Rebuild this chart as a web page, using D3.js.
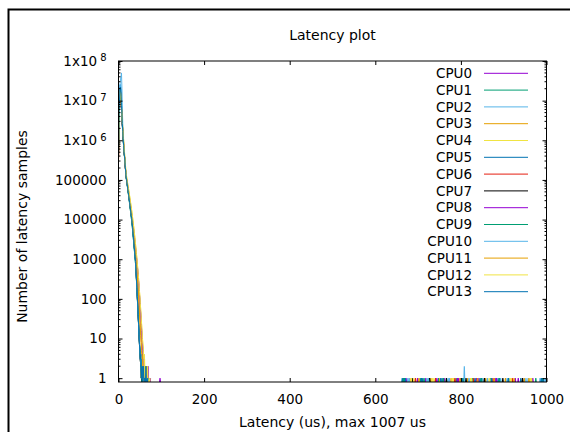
<!DOCTYPE html>
<html>
<head>
<meta charset="utf-8">
<script src="https://cdn.jsdelivr.net/npm/d3@7"></script>
<style>
  body { margin: 0; background: #fff; }
  text { font-family: "DejaVu Sans", sans-serif; fill: #000; }
</style>
</head>
<body>
<div id="chart"></div>
<script>
// samples per 1 us latency bin, starting at 0 us
const cpu0Counts = [300000, 2000000, 6000000, 12000000, 17000000, 15000000, 10000000, 6200000, 3900000, 2500000, 1700000, 1200000, 850000, 600000, 420000, 300000, 210000, 160000, 125000, 105000, 90000, 77000, 66000, 56000, 47500, 40000, 33500, 28000, 23500, 19500, 16200, 13400, 11100, 9100, 7500, 6100, 4900, 3900, 3100, 2450, 1900, 1500, 1150, 900, 700, 520, 380, 270, 190, 130, 90, 60, 40, 26, 17, 11, 8, 5, 3, 4, 2, 1, 2, 0, 1, 1, 0, 2, 1, 0, 1, 1, 0, 1];
const cpu1Counts = [500000, 2800000, 7500000, 15000000, 18000000, 15000000, 10000000, 6000000, 3600000, 2300000, 1500000, 1000000, 700000, 500000, 380000, 280000, 200000, 140000, 110000, 92000, 77000, 64000, 53000, 44000, 36500, 30000, 24500, 20000, 16300, 13300, 10800, 8700, 6900, 5300, 4000, 3000, 2250, 1700, 1280, 960, 700, 450, 280, 170, 100, 60, 35, 20, 11, 7, 4, 3, 2, 3, 1, 0, 2, 1, 1, 0, 1, 0, 1, 2, 0, 1];
const cpu2Counts = [600000, 3000000, 9000000, 20000000, 30000000, 35000000, 42000000, 50000000, 20000000, 6000000, 2500000, 1400000, 900000, 620000, 430000, 310000, 220000, 155000, 120000, 101000, 85000, 71000, 59000, 49000, 40500, 33500, 27500, 22800, 18800, 15500, 12800, 10500, 8500, 6500, 4900, 3700, 2750, 2050, 1550, 1180, 900, 550, 330, 200, 120, 72, 42, 24, 13, 8, 5, 4, 2, 3, 1, 2, 0, 1, 1, 2, 0, 1, 0, 1, 1, 0, 1];
const cpu3Counts = [350000, 2200000, 6500000, 13000000, 17500000, 15500000, 10500000, 6400000, 4000000, 2600000, 1700000, 1150000, 800000, 560000, 400000, 290000, 205000, 150000, 118000, 99000, 84000, 71000, 60000, 50500, 42500, 35500, 29500, 24500, 20300, 16800, 13900, 11400, 9300, 7500, 6000, 4700, 3650, 2800, 2150, 1650, 1250, 950, 700, 500, 350, 240, 160, 105, 68, 44, 28, 18, 12, 8, 5, 3, 4, 2, 1, 2, 0, 1, 1, 0, 2, 1, 0, 1, 0, 1];
const cpu4Counts = [280000, 1800000, 5500000, 11000000, 16000000, 15000000, 11000000, 7000000, 4500000, 3000000, 2000000, 1400000, 1000000, 700000, 500000, 350000, 250000, 185000, 142000, 118000, 100000, 86000, 74000, 63000, 54000, 46000, 39000, 33000, 27800, 23300, 19500, 16200, 13400, 11000, 9000, 7300, 5900, 4700, 3700, 2900, 2250, 1750, 1350, 1030, 780, 580, 430, 310, 220, 155, 108, 74, 50, 33, 22, 15, 10, 7, 5, 3, 4, 2, 1, 2, 1, 0, 1, 2, 0, 1, 1, 0, 1];
const cpu5Counts = [450000, 2600000, 8000000, 16000000, 25000000, 22000000, 14000000, 8000000, 4500000, 2700000, 1700000, 1100000, 740000, 520000, 390000, 290000, 205000, 146000, 115000, 97000, 82000, 68000, 56500, 47000, 39000, 32000, 26500, 22000, 18000, 14800, 12200, 10000, 8000, 6100, 4600, 3450, 2600, 1950, 1450, 1100, 820, 500, 300, 180, 108, 64, 37, 21, 12, 7, 5, 3, 2, 3, 1, 2, 0, 1, 2, 0, 1, 1, 0, 1];
const cpu6Counts = [320000, 2100000, 6300000, 12500000, 17000000, 14800000, 10000000, 6100000, 3800000, 2450000, 1600000, 1080000, 750000, 530000, 395000, 292000, 208000, 150000, 117000, 98500, 83000, 69500, 58000, 48000, 40000, 33000, 27200, 22400, 18400, 15100, 12400, 10100, 8100, 6200, 4700, 3550, 2650, 2000, 1500, 1130, 850, 520, 310, 185, 110, 66, 38, 22, 12, 7, 4, 3, 2, 1, 2, 0, 1, 1, 0, 1];
const cpu7Counts = [380000, 2400000, 7000000, 14000000, 18500000, 16000000, 10800000, 6500000, 4000000, 2500000, 1600000, 1070000, 740000, 525000, 398000, 296000, 210000, 152000, 119000, 100000, 84500, 70500, 58800, 48800, 40500, 33400, 27600, 22700, 18700, 15400, 12600, 10300, 8250, 6300, 4750, 3600, 2700, 2020, 1520, 1150, 860, 530, 320, 190, 112, 67, 39, 22, 12, 8, 5, 3, 2, 2, 1, 0, 1, 2, 0, 1, 1, 0, 1];
const cpu8Counts = [330000, 2150000, 6400000, 12800000, 17200000, 15100000, 10200000, 6300000, 3950000, 2550000, 1700000, 1180000, 830000, 590000, 415000, 300000, 212000, 158000, 124000, 104000, 89000, 76000, 65000, 55500, 47000, 39800, 33300, 27800, 23200, 19300, 16000, 13200, 10900, 8900, 7300, 5900, 4750, 3800, 3000, 2380, 1860, 1450, 1120, 860, 660, 500, 370, 265, 185, 128, 88, 59, 39, 25, 16, 10, 7, 5, 3, 2, 3, 1, 2, 0, 1, 1, 0, 1, 0, 2, 1, 0, 0, 1, 0, 1];
const cpu9Counts = [470000, 2700000, 7700000, 15200000, 18200000, 15200000, 10100000, 6050000, 3650000, 2320000, 1520000, 1010000, 705000, 505000, 383000, 283000, 202000, 142000, 111000, 93000, 78000, 65000, 54000, 44800, 37000, 30500, 25000, 20400, 16600, 13500, 11000, 8850, 7000, 5400, 4100, 3050, 2300, 1720, 1300, 980, 720, 460, 285, 172, 102, 61, 36, 21, 12, 7, 4, 3, 2, 1, 2, 0, 1, 1, 0, 1, 0, 2, 1, 0, 1];
const cpu10Counts = [550000, 2900000, 8500000, 18000000, 26000000, 24000000, 16000000, 9000000, 5000000, 2800000, 1750000, 1150000, 780000, 540000, 405000, 300000, 212000, 151000, 118000, 99500, 84000, 70000, 58300, 48400, 40100, 33100, 27300, 22500, 18500, 15200, 12500, 10200, 8200, 6250, 4700, 3550, 2650, 1980, 1480, 1120, 840, 510, 310, 185, 110, 66, 38, 22, 12, 8, 5, 3, 4, 2, 1, 2, 1, 0, 1, 1, 0, 2, 1, 0, 1];
const cpu11Counts = [360000, 2250000, 6600000, 13200000, 17800000, 15700000, 10600000, 6450000, 4050000, 2620000, 1720000, 1160000, 810000, 570000, 405000, 293000, 208000, 152000, 120000, 100500, 85500, 72500, 61000, 51500, 43300, 36200, 30100, 25000, 20700, 17100, 14100, 11600, 9450, 7600, 6050, 4750, 3700, 2850, 2180, 1670, 1260, 950, 700, 505, 355, 245, 165, 108, 70, 45, 29, 19, 12, 8, 5, 4, 3, 2, 1, 2, 0, 1, 1, 0, 1, 2, 0, 1];
const cpu12Counts = [290000, 1850000, 5600000, 11200000, 16200000, 15100000, 11100000, 7100000, 4600000, 3050000, 2050000, 1430000, 1020000, 720000, 510000, 360000, 258000, 190000, 146000, 121000, 102000, 87500, 75000, 64000, 54800, 46700, 39700, 33600, 28300, 23700, 19800, 16500, 13600, 11200, 9150, 7400, 6000, 4800, 3800, 2980, 2320, 1800, 1380, 1050, 800, 595, 440, 320, 228, 160, 112, 77, 52, 35, 23, 15, 10, 7, 5, 3, 2, 3, 1, 2, 0, 1, 1, 0, 2, 1, 0, 1, 1, 0, 1];
const cpu13Counts = [420000, 2550000, 7800000, 15500000, 22000000, 20000000, 13000000, 7600000, 4400000, 2650000, 1680000, 1090000, 735000, 520000, 400000, 300000, 210000, 150000, 118000, 100000, 84000, 70000, 58000, 48000, 40000, 33000, 27000, 22500, 18500, 15300, 12600, 10400, 8400, 6400, 4800, 3600, 2700, 2000, 1500, 1150, 880, 530, 320, 190, 115, 70, 40, 23, 12, 7, 5, 3, 4, 2, 1, 2, 0, 1, 2, 1, 0, 1, 1, 0, 2, 1, 0, 1, 0, 1];

// isolated far-out samples: [latency us, count]
const cpu0Outliers = [[97, 1], [672, 1], [718, 1], [761, 1], [795, 1], [842, 1], [880, 1], [934, 1]];
const cpu1Outliers = [[668, 1], [705, 1], [748, 1], [789, 1], [827, 1], [869, 1], [912, 1], [990, 1]];
const cpu2Outliers = [[676, 1], [721, 1], [770, 1], [808, 2], [851, 1], [893, 1], [957, 1], [985, 1]];
const cpu3Outliers = [[681, 1], [730, 1], [777, 1], [816, 1], [858, 1], [904, 1], [948, 1]];
const cpu4Outliers = [[690, 1], [737, 1], [783, 1], [822, 1], [866, 1], [915, 1], [962, 1]];
const cpu5Outliers = [[663, 1], [711, 1], [756, 1], [800, 1], [845, 1], [887, 1], [940, 1], [993, 1]];
const cpu6Outliers = [[694, 1], [741, 1], [786, 1], [830, 1], [875, 1], [920, 1]];
const cpu7Outliers = [[686, 1], [727, 1], [766, 1], [812, 1], [855, 1], [898, 1], [944, 1]];
const cpu8Outliers = [[699, 1], [744, 1], [792, 1], [836, 1], [883, 1], [927, 1], [968, 1]];
const cpu9Outliers = [[666, 1], [714, 1], [759, 1], [805, 1], [848, 1], [890, 1], [975, 1]];
const cpu10Outliers = [[679, 1], [724, 1], [773, 1], [819, 1], [862, 1], [908, 1], [952, 1], [997, 1]];
const cpu11Outliers = [[702, 1], [751, 1], [798, 1], [839, 1], [878, 1], [924, 1], [959, 1]];
const cpu12Outliers = [[684, 1], [733, 1], [780, 1], [825, 1], [871, 1], [917, 1], [965, 1]];
const cpu13Outliers = [[670, 1], [708, 1], [753, 1], [803, 1], [833, 1], [872, 1], [911, 1], [988, 1]];

const cpuNames = ["CPU0", "CPU1", "CPU2", "CPU3", "CPU4", "CPU5", "CPU6", "CPU7",
                  "CPU8", "CPU9", "CPU10", "CPU11", "CPU12", "CPU13"];
const cpuColors = ["#9400d3", "#009e73", "#56b4e9", "#e69f00", "#f0e442", "#0072b2", "#e51e10", "#000000",
                   "#9400d3", "#009e73", "#56b4e9", "#e69f00", "#f0e442", "#0072b2"];
const xTickValues = [0, 200, 400, 600, 800, 1000];
const yTickValues = [1, 10, 100, 1000, 10000, 100000, 1e6, 1e7, 1e8];

document.addEventListener("DOMContentLoaded", function() {
  const allCounts = [cpu0Counts, cpu1Counts, cpu2Counts, cpu3Counts, cpu4Counts, cpu5Counts, cpu6Counts,
                     cpu7Counts, cpu8Counts, cpu9Counts, cpu10Counts, cpu11Counts, cpu12Counts, cpu13Counts];
  const allOutliers = [cpu0Outliers, cpu1Outliers, cpu2Outliers, cpu3Outliers, cpu4Outliers, cpu5Outliers, cpu6Outliers,
                       cpu7Outliers, cpu8Outliers, cpu9Outliers, cpu10Outliers, cpu11Outliers, cpu12Outliers, cpu13Outliers];

  // 1) Dimensions
  const width = 570;
  const height = 432;
  const left = 118.5, right = 546.5, top = 61, bottom = 382;
  const yMin = 0.8;

  const svg = d3.select("#chart")
    .append("svg")
    .attr("width", width)
    .attr("height", height);

  svg.append("rect")
    .attr("width", width).attr("height", height)
    .style("fill", "#fff");

  // outer frame (runs off the right and bottom edges)
  svg.append("rect")
    .attr("x", 8.5).attr("y", 9.5)
    .attr("width", 700).attr("height", 600)
    .style("fill", "none")
    .style("stroke", "#000")
    .style("stroke-width", 2);

  // 2) Scales
  const x = d3.scaleLinear().domain([0, 1000]).range([left, right]);
  const y = d3.scaleLog().domain([yMin, 1e8]).range([bottom, top]);

  svg.append("clipPath").attr("id", "plotclip")
    .append("rect")
    .attr("x", left).attr("y", top)
    .attr("width", right - left).attr("height", bottom - top);

  // 3) Data lines (zero counts fall to the bottom edge)
  const line = d3.line()
    .x((d, i) => x(i))
    .y(d => y(Math.max(d, yMin)));

  const plot = svg.append("g").attr("clip-path", "url(#plotclip)");

  allCounts.forEach((counts, k) => {
    plot.append("path")
      .attr("d", line(counts))
      .style("fill", "none")
      .style("stroke", cpuColors[k])
      .style("stroke-width", 1);

    allOutliers[k].forEach(o => {
      plot.append("path")
        .attr("d", `M${x(o[0] - 1)},${y(yMin)}L${x(o[0])},${y(o[1])}L${x(o[0] + 1)},${y(yMin)}`)
        .style("fill", "none")
        .style("stroke", cpuColors[k])
        .style("stroke-width", 1.2);
    });
  });

  // 4) Axes: ticks point inward, mirrored on top and right
  const fmtY = v => v >= 1e6 ? "1x10" : d3.format("d")(v);

  svg.append("g")
    .attr("transform", `translate(0,${bottom})`)
    .call(d3.axisBottom(x).tickValues(xTickValues).tickSizeInner(-4).tickSizeOuter(0).tickPadding(12).tickFormat(d3.format("d")));
  svg.append("g")
    .attr("transform", `translate(0,${top})`)
    .call(d3.axisTop(x).tickValues(xTickValues).tickSizeInner(-4).tickSizeOuter(0).tickFormat(""));

  const gy = svg.append("g")
    .attr("transform", `translate(${left},0)`)
    .call(d3.axisLeft(y).tickValues(yTickValues).tickSizeInner(-4).tickSizeOuter(0).tickPadding(12).tickFormat(fmtY));
  svg.append("g")
    .attr("transform", `translate(${right},0)`)
    .call(d3.axisRight(y).tickValues(yTickValues).tickSizeInner(-4).tickSizeOuter(0).tickFormat(""));

  // minor ticks on log axis
  const minor = y.ticks().filter(v => v >= 1 && !yTickValues.includes(v));
  svg.selectAll("line.minorL")
    .data(minor).enter().append("line")
    .attr("x1", left).attr("x2", left + 2)
    .attr("y1", d => y(d)).attr("y2", d => y(d))
    .style("stroke", "#000");
  svg.selectAll("line.minorR")
    .data(minor).enter().append("line")
    .attr("x1", right).attr("x2", right - 2)
    .attr("y1", d => y(d)).attr("y2", d => y(d))
    .style("stroke", "#000");

  svg.selectAll(".domain").remove();
  svg.selectAll(".tick text")
    .style("font-family", "'DejaVu Sans', sans-serif")
    .style("font-size", "13.5px")
    .style("fill", "#000");

  // superscript exponent for the big powers of ten
  gy.selectAll(".tick text")
    .filter(d => d >= 1e6)
    .append("tspan")
    .attr("dx", 3)
    .attr("dy", "-0.45em")
    .style("font-size", "10px")
    .text(d => Math.round(Math.log10(d)));

  // border
  svg.append("rect")
    .attr("x", left).attr("y", top)
    .attr("width", right - left).attr("height", bottom - top)
    .style("fill", "none")
    .style("stroke", "#000")
    .style("stroke-width", 1);

  // 5) Titles
  svg.append("text")
    .attr("x", (left + right) / 2).attr("y", 40)
    .attr("text-anchor", "middle")
    .style("font-size", "14px")
    .text("Latency plot");

  svg.append("text")
    .attr("x", (left + right) / 2).attr("y", 427)
    .attr("text-anchor", "middle")
    .style("font-size", "14px")
    .text("Latency (us), max 1007 us");

  svg.append("text")
    .attr("transform", `translate(27,${(top + bottom) / 2 + 5}) rotate(-90)`)
    .attr("text-anchor", "middle")
    .style("font-size", "14px")
    .text("Number of latency samples");

  // 6) Legend
  const legend = svg.selectAll("g.legend")
    .data(cpuNames)
    .enter()
    .append("g")
    .attr("class", "legend")
    .attr("transform", (d, i) => `translate(0,${73.3 + i * 16.8})`);

  legend.append("text")
    .attr("x", 472)
    .attr("dy", "0.35em")
    .attr("text-anchor", "end")
    .style("font-size", "13.5px")
    .text(d => d);

  legend.append("line")
    .attr("x1", 484).attr("x2", 528)
    .style("stroke", (d, i) => cpuColors[i])
    .style("stroke-width", 1);
});
</script>
</body>
</html>
